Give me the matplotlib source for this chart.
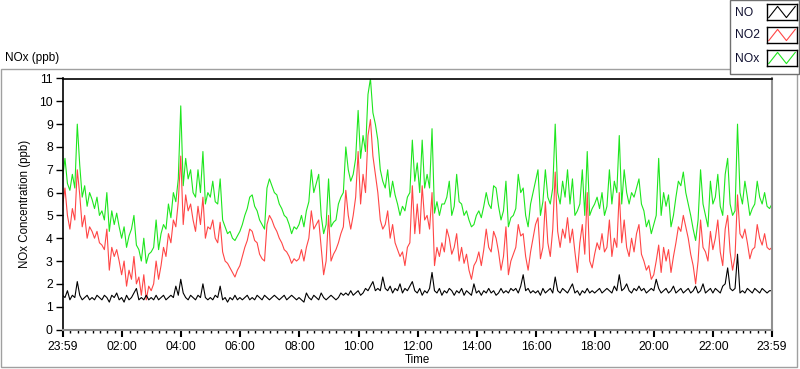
import numpy as np
import matplotlib.pyplot as plt
from matplotlib.patches import Rectangle

# Daily NOx record, one reading every 5 minutes from 23:59 to 23:59
minutes = np.arange(0, 1441, 5)

nox_ppb = [
    6.6, 7.5, 6.4, 6.1, 6.8, 6.2, 9.0, 7.2, 5.8, 6.3, 5.4, 6.0,
    5.7, 5.3, 5.8, 5.0, 5.2, 4.8, 6.0, 4.3, 5.2, 4.6, 5.1, 4.5,
    4.0, 4.5, 3.6, 4.1, 4.4, 5.0, 3.7, 3.5, 3.0, 4.0, 2.9, 3.3,
    3.4, 3.6, 4.8, 3.5, 4.2, 4.6, 4.4, 5.5, 4.9, 6.0, 5.6, 6.6,
    9.8, 6.3, 7.5, 6.6, 7.0, 6.0, 5.8, 7.0, 6.0, 7.8, 5.5, 6.0,
    5.8, 6.5, 5.6, 5.5, 6.6, 4.8, 4.5, 4.2, 4.3, 4.0, 3.9, 4.1,
    4.3, 4.6, 5.0, 5.3, 5.8, 5.9, 5.4, 5.2, 4.8, 4.6, 4.4, 6.2,
    6.6, 6.3, 6.0, 5.9, 5.5, 5.3, 5.0, 4.9, 4.6, 4.2, 4.5, 4.4,
    4.6, 5.0, 4.5, 5.2, 5.6, 7.0, 6.0, 6.4, 6.8, 5.0, 4.2, 4.6,
    6.6, 4.5, 4.7, 4.8, 5.5, 5.8, 6.0, 8.0, 7.0, 6.5, 6.8, 7.5,
    9.6, 7.5, 8.5, 7.8, 10.3, 11.0, 9.5, 9.0, 8.3, 7.0, 6.5, 6.2,
    7.0, 5.8, 6.5, 5.9, 5.5, 5.0, 5.4, 5.2, 5.8, 6.0, 8.3, 6.5,
    7.3, 6.0, 8.3, 6.2, 6.8, 6.2, 8.8, 5.1, 5.6, 5.0, 5.5, 5.5,
    5.8, 6.5, 5.0, 5.4, 6.8, 5.6, 5.5, 5.0, 5.2, 4.8, 4.5, 4.6,
    5.0, 5.2, 4.9, 5.4, 6.0, 5.5, 5.3, 6.3, 6.2, 5.4, 4.8, 5.2,
    6.5, 4.5, 4.9, 5.0, 5.3, 6.8, 6.0, 6.2, 5.0, 4.5, 5.5, 6.0,
    6.5, 7.0, 5.0, 5.6, 7.0, 5.8, 5.5, 6.2, 9.0, 6.0, 5.5, 6.5,
    5.8, 7.0, 5.5, 6.6, 5.0, 5.2, 5.5, 7.0, 5.0, 7.8, 5.0, 5.3,
    5.5, 5.8, 5.3, 6.0, 5.0, 5.4, 7.0, 5.5, 6.5, 6.0, 8.5, 5.5,
    7.0, 6.0, 5.5, 6.0, 5.8, 6.2, 6.6, 5.5, 5.2, 4.5, 4.8, 4.2,
    4.6, 5.0, 7.5, 5.0, 6.0, 5.4, 5.9, 4.5, 5.0, 5.8, 6.5, 6.3,
    6.9, 6.0, 5.5, 5.0, 4.4, 3.9, 4.8, 7.0, 5.5, 5.0, 4.5, 6.5,
    5.5, 5.8, 6.8, 5.4, 5.0, 6.8, 7.5, 5.5, 5.0, 5.2, 9.0, 6.0,
    5.5, 6.5, 5.8, 5.0, 5.3, 5.5, 6.5, 5.8, 5.5, 6.0, 5.4, 5.3,
    5.5,
]

no2_ppb = [
    5.4, 6.2, 5.0, 4.4, 5.3, 4.8, 7.0, 5.9, 4.5, 5.0, 4.0, 4.5,
    4.3, 4.0, 4.3, 3.8, 3.7, 3.5, 4.4, 2.6, 3.6, 3.2, 3.5, 3.0,
    2.4, 3.0, 1.9, 2.6, 2.2, 3.2, 2.0, 2.3, 1.5, 2.4, 1.3, 1.9,
    1.7, 2.0, 3.0, 2.2, 2.8, 3.6, 3.2, 4.2, 3.8, 4.8, 4.5, 5.6,
    7.6, 4.6, 5.9, 5.2, 5.5, 4.8, 4.3, 5.4, 4.6, 5.8, 4.0, 4.5,
    4.4, 4.8, 4.0, 3.8, 4.7, 3.4, 3.0, 2.9, 2.7, 2.5, 2.3, 2.6,
    2.8, 3.2, 3.6, 3.9, 4.4, 4.3, 3.9, 3.8, 3.3, 3.1, 3.0, 4.6,
    5.0, 4.8, 4.5, 4.3, 4.0, 3.8, 3.5, 3.4, 3.2, 2.9, 3.1, 3.0,
    3.1, 3.5, 3.0, 3.6, 4.0, 5.2, 4.4, 4.6, 4.8, 3.6, 2.4, 3.0,
    5.0, 3.0, 3.3, 3.5, 3.8, 4.2, 4.5, 6.1, 5.0, 4.4, 5.0, 5.8,
    7.8, 5.5, 6.8, 6.0, 8.5, 9.2, 7.6, 6.8, 6.0, 4.8, 4.4, 4.6,
    5.2, 4.0, 4.6, 3.8, 3.5, 3.2, 3.4, 2.8, 3.6, 3.8, 6.3, 4.2,
    5.5, 4.2, 6.3, 4.8, 5.0, 4.4, 6.0, 2.8, 3.6, 3.2, 3.8, 3.4,
    4.4, 4.0, 3.3, 3.6, 4.2, 3.0, 3.6, 2.9, 3.3, 2.6, 2.2, 2.8,
    3.0, 3.4, 2.8, 3.5, 4.4, 3.6, 3.4, 4.3, 4.0, 3.4, 2.6, 3.2,
    4.5, 2.4, 3.0, 3.3, 3.6, 4.6, 4.1, 4.2, 3.2, 2.6, 3.4, 4.0,
    4.6, 4.9, 3.1, 3.6, 5.6, 3.8, 3.2, 4.4, 6.9, 4.3, 3.6, 4.4,
    4.0, 4.9, 3.8, 4.4, 3.4, 2.5, 3.8, 4.6, 3.3, 6.0, 3.0, 2.7,
    3.3, 3.8, 3.5, 4.2, 3.4, 3.6, 4.8, 3.2, 4.0, 3.6, 6.0, 3.8,
    4.8, 3.6, 3.2, 4.0, 3.4, 4.2, 4.6, 3.3, 3.0, 2.6, 2.8, 2.2,
    2.4, 3.0, 3.7, 2.5, 3.6, 3.0, 3.5, 2.5, 3.2, 3.8, 4.5, 4.3,
    5.0, 4.5, 4.0, 3.3, 2.8, 2.0, 3.0, 4.8, 3.6, 3.4, 3.0, 4.3,
    3.5, 4.0, 4.8, 3.4, 2.8, 4.4, 5.0, 3.4, 2.6, 3.2, 5.9, 4.2,
    4.0, 4.4, 3.8, 3.1, 3.5, 3.6, 4.6, 4.0, 3.7, 4.2, 3.6, 3.5,
    3.6,
]

no_ppb = [
    1.5, 1.4, 1.7, 1.3, 1.5, 1.4, 2.1, 1.5, 1.3, 1.4, 1.5, 1.3,
    1.4, 1.3, 1.5, 1.4, 1.3, 1.5, 1.4, 1.2, 1.5, 1.4, 1.6, 1.3,
    1.4, 1.2, 1.5, 1.3, 1.4, 1.6, 1.8, 1.3, 1.4, 1.3, 1.5, 1.3,
    1.4, 1.3, 1.5, 1.3, 1.4, 1.5, 1.3, 1.4, 1.5, 1.4, 1.9, 1.5,
    2.2, 1.6, 1.4, 1.3, 1.5, 1.4, 1.3, 1.5, 1.4, 2.0, 1.4, 1.3,
    1.4, 1.3, 1.5, 1.4, 1.9, 1.3, 1.4, 1.2, 1.4, 1.3, 1.5, 1.3,
    1.4, 1.3, 1.4, 1.5, 1.3, 1.4, 1.3, 1.5, 1.4, 1.3, 1.5, 1.4,
    1.3, 1.4, 1.5, 1.4, 1.3, 1.4, 1.5, 1.3, 1.4, 1.5, 1.4, 1.3,
    1.4, 1.3, 1.2, 1.6, 1.4, 1.3, 1.5, 1.4, 1.3, 1.6, 1.4, 1.3,
    1.4, 1.5, 1.4, 1.3, 1.4, 1.6, 1.5, 1.6, 1.5, 1.7, 1.5, 1.6,
    1.7, 1.5, 1.6, 1.8, 1.7, 1.9, 2.1, 1.7, 1.8, 1.7, 2.3, 1.8,
    1.7, 1.9, 1.6, 1.8, 1.7, 2.0, 1.6, 1.8, 1.7, 1.9, 2.1, 1.7,
    1.6, 1.8, 1.5, 1.7, 1.6, 1.8, 2.5, 1.7, 1.6, 1.8, 1.5, 1.7,
    1.6, 1.8, 1.7, 1.5, 1.7, 1.6, 1.8, 1.5, 1.7, 1.6, 1.5, 2.0,
    1.6, 1.7, 1.5, 1.7, 1.6, 1.8, 1.6, 1.7, 1.5, 1.6, 1.8, 1.6,
    1.7, 1.6, 1.8, 1.7, 1.8, 1.6, 1.9, 2.4, 1.7, 1.8, 1.6, 1.7,
    1.6, 1.7, 1.5, 1.8, 1.6, 1.7, 1.8, 1.6, 2.3, 1.7, 1.6, 1.8,
    1.7, 1.6, 1.8, 2.0, 1.6, 1.7, 1.5, 1.7, 1.6, 1.8, 1.6, 1.7,
    1.6, 1.7, 1.8, 1.6, 1.7, 1.8, 1.7, 1.6, 1.9, 1.7, 2.4, 1.7,
    1.8, 2.0, 1.7, 1.6, 1.8, 1.7, 1.9, 1.7, 1.8, 1.6, 1.7, 1.8,
    1.7, 2.2, 1.8, 1.6, 1.7, 1.8, 1.6, 1.7, 1.9, 1.6, 1.7, 1.8,
    1.6, 1.7, 1.8, 1.6, 1.7, 1.9, 1.6, 1.7, 2.0, 1.6, 1.7, 1.8,
    1.6, 1.8, 1.7, 1.6, 1.9, 2.0, 2.7, 1.8, 1.7, 1.8, 3.3, 1.6,
    1.7, 1.6, 1.8, 1.7, 1.6, 1.8, 1.7, 1.6, 1.8, 1.7, 1.6, 1.7,
    1.7,
]

# Axis ticks: 23:59 start, then every two hours, 23:59 end
major_minutes = [0, 121, 241, 361, 481, 601, 721, 841, 961, 1081, 1201, 1321, 1440]
major_labels = ['23:59', '02:00', '04:00', '06:00', '08:00', '10:00', '12:00',
                '14:00', '16:00', '18:00', '20:00', '22:00', '23:59']

series_names = ['NO', 'NO2', 'NOx']
series_colors = ['#000000', '#ff4646', '#1ee61e']

plt.rcParams['font.family'] = ['Liberation Sans', 'DejaVu Sans']
plt.rcParams['font.size'] = 8.3

W, H = 800, 369
fig = plt.figure(figsize=(W / 100, H / 100), dpi=100)


def fx(px):
    return px / W


def fy(py):
    return 1 - py / H


# Grey frame around the graph panel
fig.add_artist(Rectangle((fx(1), fy(367)), fx(797) - fx(1), fy(69) - fy(367),
                         transform=fig.transFigure, fill=False, ec='#a0a0a0', lw=1,
                         zorder=-2))
fig.text(fx(5), fy(58), 'NOx (ppb)', ha='left', va='center', fontsize=8.5)

ax = fig.add_axes([fx(62.5), fy(329.5), (772 - 62.5) / W, (329.5 - 78.5) / H])
ax.plot(minutes, nox_ppb, color=series_colors[2], lw=0.8)
ax.plot(minutes, no2_ppb, color=series_colors[1], lw=0.8)
ax.plot(minutes, no_ppb, color=series_colors[0], lw=0.8)

ax.set_xlim(0, 1440)
ax.set_ylim(0, 11)
ax.set_yticks(range(12))
ax.set_xticks(major_minutes, major_labels)
ax.set_xticks(np.arange(16, 1440, 15), minor=True)
ax.tick_params(axis='both', labelsize=8.7)
ax.tick_params(axis='y', direction='out', length=5, width=1, pad=2)
ax.tick_params(axis='x', which='major', direction='out', length=5, width=1.5, pad=3)
ax.tick_params(axis='x', which='minor', direction='out', length=2.5, width=1)

for side in ['left', 'top']:
    ax.spines[side].set_color('black')
    ax.spines[side].set_linewidth(1.2)
for side in ['right', 'bottom']:
    ax.spines[side].set_color('#909090')
    ax.spines[side].set_linewidth(1.5)

ax.set_ylabel('NOx Concentration (ppb)')
ax.yaxis.set_label_coords((31 - 62.5) / 709.5, 0.5)
ax.set_xlabel('Time')
ax.xaxis.set_label_coords(0.5, -(354 - 329.5) / 251)

# Legend panel in the top right corner
fig.add_artist(Rectangle((fx(729.5), fy(74)), fx(799) - fx(729.5), fy(0.5) - fy(74),
                         transform=fig.transFigure, fc='white', ec='#707070', lw=1,
                         zorder=-1))
for i, (name, col) in enumerate(zip(series_names, series_colors)):
    top = 4 + i * 23
    fig.text(fx(735), fy(top + 8.5), name, ha='left', va='center', color='#101030',
             fontsize=8.7)
    sw = fig.add_axes([fx(767), fy(top + 16), 30 / W, 16 / H])
    sw.plot([0, 1, 2, 3], [0.15, 0.85, 0.15, 0.85], color=col, lw=0.8)
    sw.set_xlim(-0.2, 3.2)
    sw.set_ylim(0, 1)
    sw.set_xticks([])
    sw.set_yticks([])
    for s in sw.spines.values():
        s.set_color('black')
        s.set_linewidth(1)

plt.savefig('out.png', dpi=100)
plt.close()
